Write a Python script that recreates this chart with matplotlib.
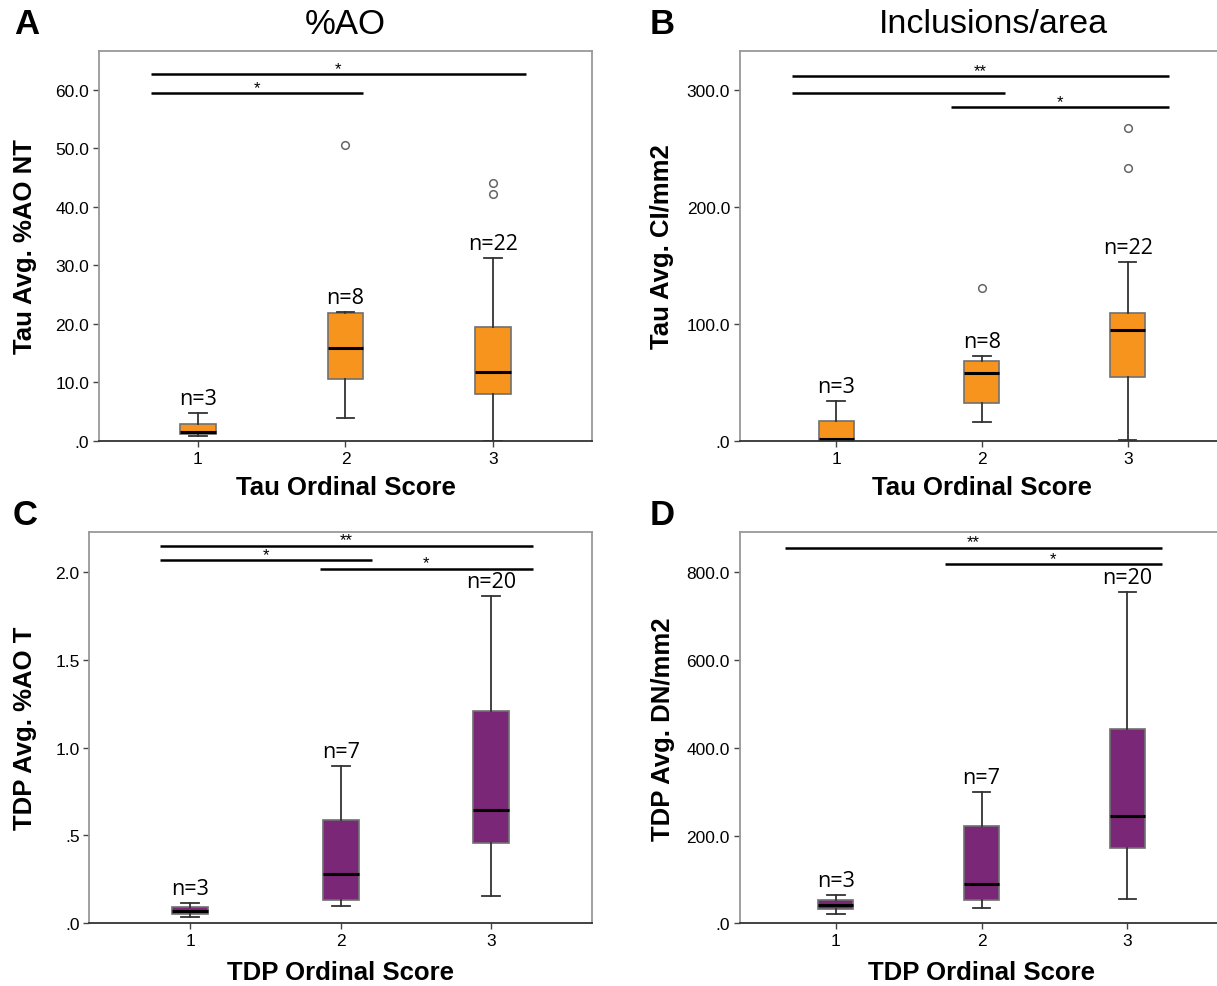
import matplotlib
matplotlib.use("Agg")
import matplotlib.pyplot as plt
from matplotlib.ticker import FuncFormatter

plt.rcParams['font.family'] = ['Liberation Sans', 'DejaVu Sans']

ORANGE = '#F7941D'
PURPLE = '#7B2777'

groups = [1, 2, 3]

# A: Tau %AO
a_whislo = [0.8, 3.9, 0.05]
a_q1 = [1.14, 10.6, 8.1]
a_med = [1.48, 15.9, 11.7]
a_q3 = [2.96, 21.9, 19.5]
a_whishi = [4.7, 22.0, 31.2]
a_fliers = [[], [50.6], [44.0, 42.2]]
a_n = ['n=3', 'n=8', 'n=22']
a_sig = [(0.68, 2.12, 59.4, '*'), (0.68, 3.22, 62.6, '*')]

# B: Tau inclusions/area
b_whislo = [0.0, 16.5, 1.1]
b_q1 = [0.0, 32.2, 54.9]
b_med = [1.7, 58.3, 94.8]
b_q3 = [17.4, 68.6, 109.3]
b_whishi = [34.2, 72.9, 153.1]
b_fliers = [[], [130.9], [267.0, 233.4]]
b_n = ['n=3', 'n=8', 'n=22']
b_sig = [(0.70, 3.28, 311.4, '**'), (0.70, 2.16, 296.9, ''), (1.79, 3.28, 284.9, '*')]

# C: TDP %AO
c_whislo = [0.038, 0.097, 0.154]
c_q1 = [0.053, 0.133, 0.459]
c_med = [0.072, 0.279, 0.646]
c_q3 = [0.094, 0.588, 1.208]
c_whishi = [0.114, 0.897, 1.86]
c_fliers = [[], [], []]
c_n = ['n=3', 'n=7', 'n=20']
c_sig = [(0.80, 3.28, 2.148, '**'), (0.80, 2.21, 2.067, '*'), (1.86, 3.28, 2.018, '*')]

# D: TDP DN/mm2
d_whislo = [21.2, 34.2, 55.4]
d_q1 = [31.9, 53.8, 172.3]
d_med = [42.5, 89.6, 243.8]
d_q3 = [53.0, 221.0, 442.8]
d_whishi = [64.5, 298.5, 755.7]
d_fliers = [[], [], []]
d_n = ['n=3', 'n=7', 'n=20']
d_sig = [(0.65, 3.235, 856, '**'), (1.75, 3.235, 818, '*')]


def fmt(v, pos):
    s = f'{v:.1f}'
    return s[1:] if s.startswith('0') else s


def panel(rect, whislo, q1, med, q3, whishi, fliers, nlab, sig, color,
          ylim, yticks, ylabel, xlabel, ylab_x, xlab_y, xlim=(0.33, 3.67)):
    ax = fig.add_axes(rect)
    stats = []
    for i in range(3):
        stats.append(dict(whislo=whislo[i], q1=q1[i], med=med[i], q3=q3[i],
                          whishi=whishi[i], fliers=fliers[i]))
    ax.bxp(stats, positions=groups, widths=0.24, capwidths=0.12, patch_artist=True,
           boxprops=dict(facecolor=color, edgecolor='#707070', linewidth=1.2),
           medianprops=dict(color='black', linewidth=2.2),
           whiskerprops=dict(color='#333333', linewidth=1.3),
           capprops=dict(color='#333333', linewidth=1.3),
           flierprops=dict(marker='o', markerfacecolor='white', markeredgecolor='#666666',
                           markersize=5.5, markeredgewidth=1.1))
    for i in range(3):
        ax.annotate(nlab[i], (groups[i], whishi[i]), xytext=(0, 10.5), textcoords='offset points',
                    ha='center', va='center', fontsize=15.5, family=['Open Sans', 'DejaVu Sans'])
    for x0, x1, y, star in sig:
        ax.plot([x0, x1], [y, y], color='black', linewidth=1.8, solid_capstyle='butt')
        if star:
            ax.annotate(star, ((x0 + x1) / 2, y), xytext=(0, 1), textcoords='offset points',
                        ha='center', va='baseline', fontsize=12)
    ax.set_xlim(*xlim)
    ax.set_ylim(*ylim)
    ax.set_xticks(groups)
    ax.set_xticklabels([str(g) for g in groups])
    ax.set_yticks(yticks)
    ax.yaxis.set_major_formatter(FuncFormatter(fmt))
    ax.tick_params(labelsize=12.5, length=4, width=1, color='#444444', pad=3)
    for s in ['left', 'top', 'right']:
        ax.spines[s].set_color('#999999')
        ax.spines[s].set_linewidth(1.3)
    ax.spines['bottom'].set_color('#333333')
    ax.spines['bottom'].set_linewidth(1.3)
    ax.set_ylabel(ylabel, fontsize=18.5, fontweight='bold')
    ax.set_xlabel(xlabel, fontsize=18.5, fontweight='bold')
    ax.yaxis.set_label_coords(ylab_x, 0.5)
    ax.xaxis.set_label_coords(0.5, xlab_y)
    ax.yaxis.label.set_va('center')
    ax.xaxis.label.set_va('center')
    return ax


fig = plt.figure(figsize=(12.17, 9.87), dpi=100)

panel([0.0813, 0.5522, 0.4051, 0.3951], a_whislo, a_q1, a_med, a_q3, a_whishi, a_fliers,
      a_n, a_sig, ORANGE, (0, 66.6), [0, 10, 20, 30, 40, 50, 60],
      'Tau Avg. %AO NT', 'Tau Ordinal Score', -0.150, -0.118)
panel([0.6080, 0.5522, 0.3977, 0.3951], b_whislo, b_q1, b_med, b_q3, b_whishi, b_fliers,
      b_n, b_sig, ORANGE, (0, 333), [0, 100, 200, 300],
      'Tau Avg. CI/mm2', 'Tau Ordinal Score', -0.160, -0.118, xlim=(0.34, 3.66))
panel([0.0735, 0.0635, 0.4129, 0.3964], c_whislo, c_q1, c_med, c_q3, c_whishi, c_fliers,
      c_n, c_sig, PURPLE, (0, 2.226), [0, 0.5, 1.0, 1.5, 2.0],
      'TDP Avg. %AO T', 'TDP Ordinal Score', -0.128, -0.125)
panel([0.6077, 0.0635, 0.3977, 0.3961], d_whislo, d_q1, d_med, d_q3, d_whishi, d_fliers,
      d_n, d_sig, PURPLE, (0, 891), [0, 200, 400, 600, 800],
      'TDP Avg. DN/mm2', 'TDP Ordinal Score', -0.159, -0.125, xlim=(0.34, 3.66))

for lab, x, y in [('A', 0.022, 0.975), ('B', 0.544, 0.975), ('C', 0.021, 0.478), ('D', 0.544, 0.478)]:
    fig.text(x, y, lab, fontsize=25, fontweight='bold', ha='center', va='center')
fig.text(0.284, 0.975, '%AO', fontsize=25, ha='center', va='center')
fig.text(0.816, 0.975, 'Inclusions/area', fontsize=24.5, ha='center', va='center')

fig.savefig('out.png', dpi=100)
